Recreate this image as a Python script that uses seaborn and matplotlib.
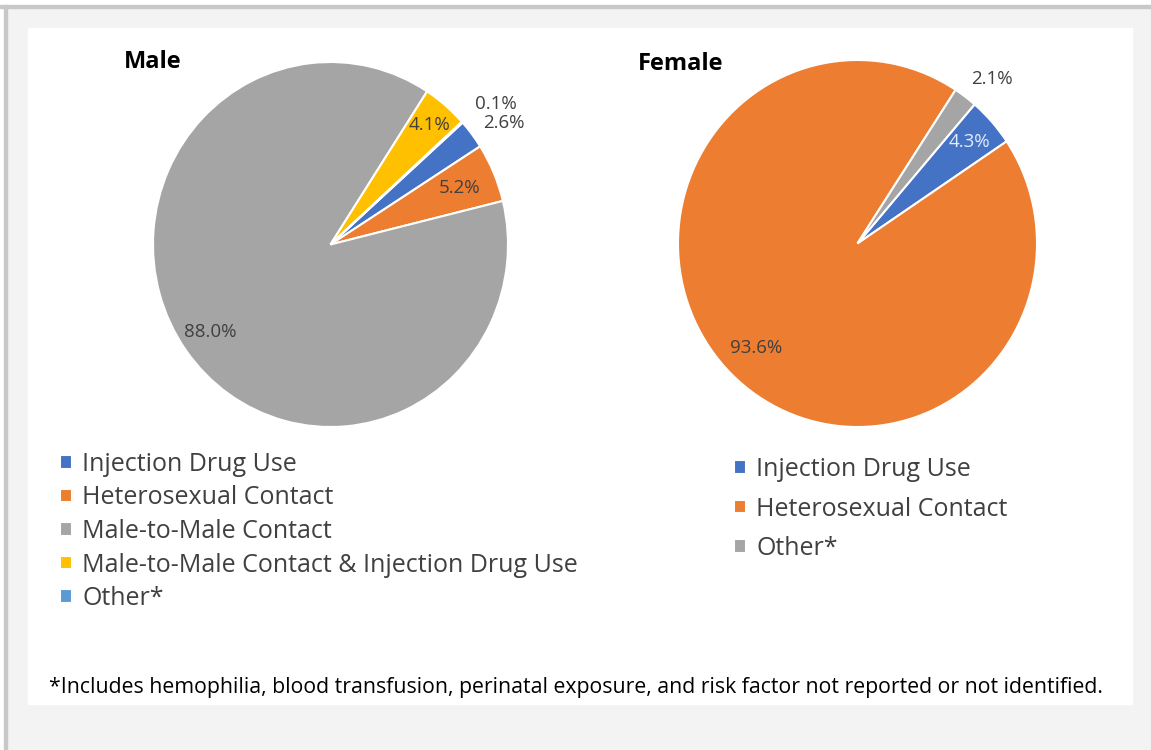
import numpy as np
import matplotlib
matplotlib.use("Agg")
import matplotlib.pyplot as plt
import matplotlib.patches as mpatches
import seaborn as sns

# data
male_labels = ["Injection Drug Use", "Heterosexual Contact", "Male-to-Male Contact",
               "Male-to-Male Contact & Injection Drug Use", "Other*"]
male_values = [2.6, 5.2, 88.0, 4.1, 0.1]
female_labels = ["Injection Drug Use", "Heterosexual Contact", "Other*"]
female_values = [4.3, 93.6, 2.1]
footnote = ("*Includes hemophilia, blood transfusion, perinatal exposure, "
            "and risk factor not reported or not identified.")

sns.set_theme(style="white")
plt.rcParams['font.family'] = ['Open Sans', 'DejaVu Sans']

W, H = 1151, 750
fig = plt.figure(figsize=(W / 100, H / 100), dpi=100, facecolor="#f3f3f3")


def px_box(x0, y0, x1, y1):
    return [x0 / W, 1 - y1 / H, (x1 - x0) / W, (y1 - y0) / H]


def bg_rect(x0, y0, x1, y1, color):
    # rectangle given in pixel coords (origin top-left)
    fig.patches.append(mpatches.Rectangle((x0 / W, 1 - y1 / H), (x1 - x0) / W, (y1 - y0) / H,
                                          transform=fig.transFigure, color=color, zorder=-5))


# page background: white strip, gray border, white panel
bg_rect(0, 0, W, 5, "white")
bg_rect(0, 0, 4, H, "white")
bg_rect(0, 5, W, 8, "#c8c8c8")
bg_rect(4, 5, 7, H, "#c8c8c8")
bg_rect(28, 28, 1132, 704, "white")

office = sns.color_palette(["#4472C4", "#ED7D31", "#A5A5A5", "#FFC000", "#5B9BD5"])


def draw_pie(box, values, colors, start, dists, shifts, txt_colors):
    ax = fig.add_axes(px_box(*box))
    wedges, _ = ax.pie(values, colors=colors, startangle=start, counterclock=False,
                       wedgeprops=dict(edgecolor="white", linewidth=1.5))
    ax.set_aspect("auto")
    ax.set_xlim(-1, 1)
    ax.set_ylim(-1, 1)
    ax.axis("off")
    for w, v, d, s, c in zip(wedges, values, dists, shifts, txt_colors):
        mid = np.deg2rad((w.theta1 + w.theta2) / 2 + s)
        ax.text(d * np.cos(mid), d * np.sin(mid), f"{v:.1f}%", ha="center", va="center",
                fontsize=13.5, color=c, clip_on=False)
    return wedges


male_w = draw_pie((153, 62, 508, 427), male_values, office, 41.9,
                  [1.18, 0.79, 0.83, 0.86, 1.21], [-3, 0, 0, 0, -2.4],
                  ["#404040"] * 5)
female_w = draw_pie((678, 60, 1037, 427), female_values, office[:3], 49.3,
                    [0.83, 0.8, 1.17], [0, 0, -3],
                    ["#e4ecf8", "#404040", "#404040"])

fig.text(153 / W, 1 - 62 / H, "Male", ha="center", va="center", fontsize=17,
         fontweight="bold", color="black")
fig.text(681 / W, 1 - 64 / H, "Female", ha="center", va="center", fontsize=17,
         fontweight="bold", color="black")

leg_kw = dict(loc="upper left", frameon=False, fontsize=18, handlelength=0.46,
              handleheight=0.46, handletextpad=0.44, borderpad=0, borderaxespad=0,
              labelcolor="#404040")
fig.legend(male_w, male_labels, bbox_to_anchor=(60 / W, 1 - 452 / H),
           labelspacing=0.34, **leg_kw)
fig.legend(female_w, female_labels, bbox_to_anchor=(734 / W, 1 - 457 / H),
           labelspacing=0.58, **leg_kw)

fig.text(576 / W, 1 - 688 / H, footnote, ha="center", va="center", fontsize=15.3,
         color="black")

fig.savefig("out.png", dpi=100, facecolor=fig.get_facecolor())
